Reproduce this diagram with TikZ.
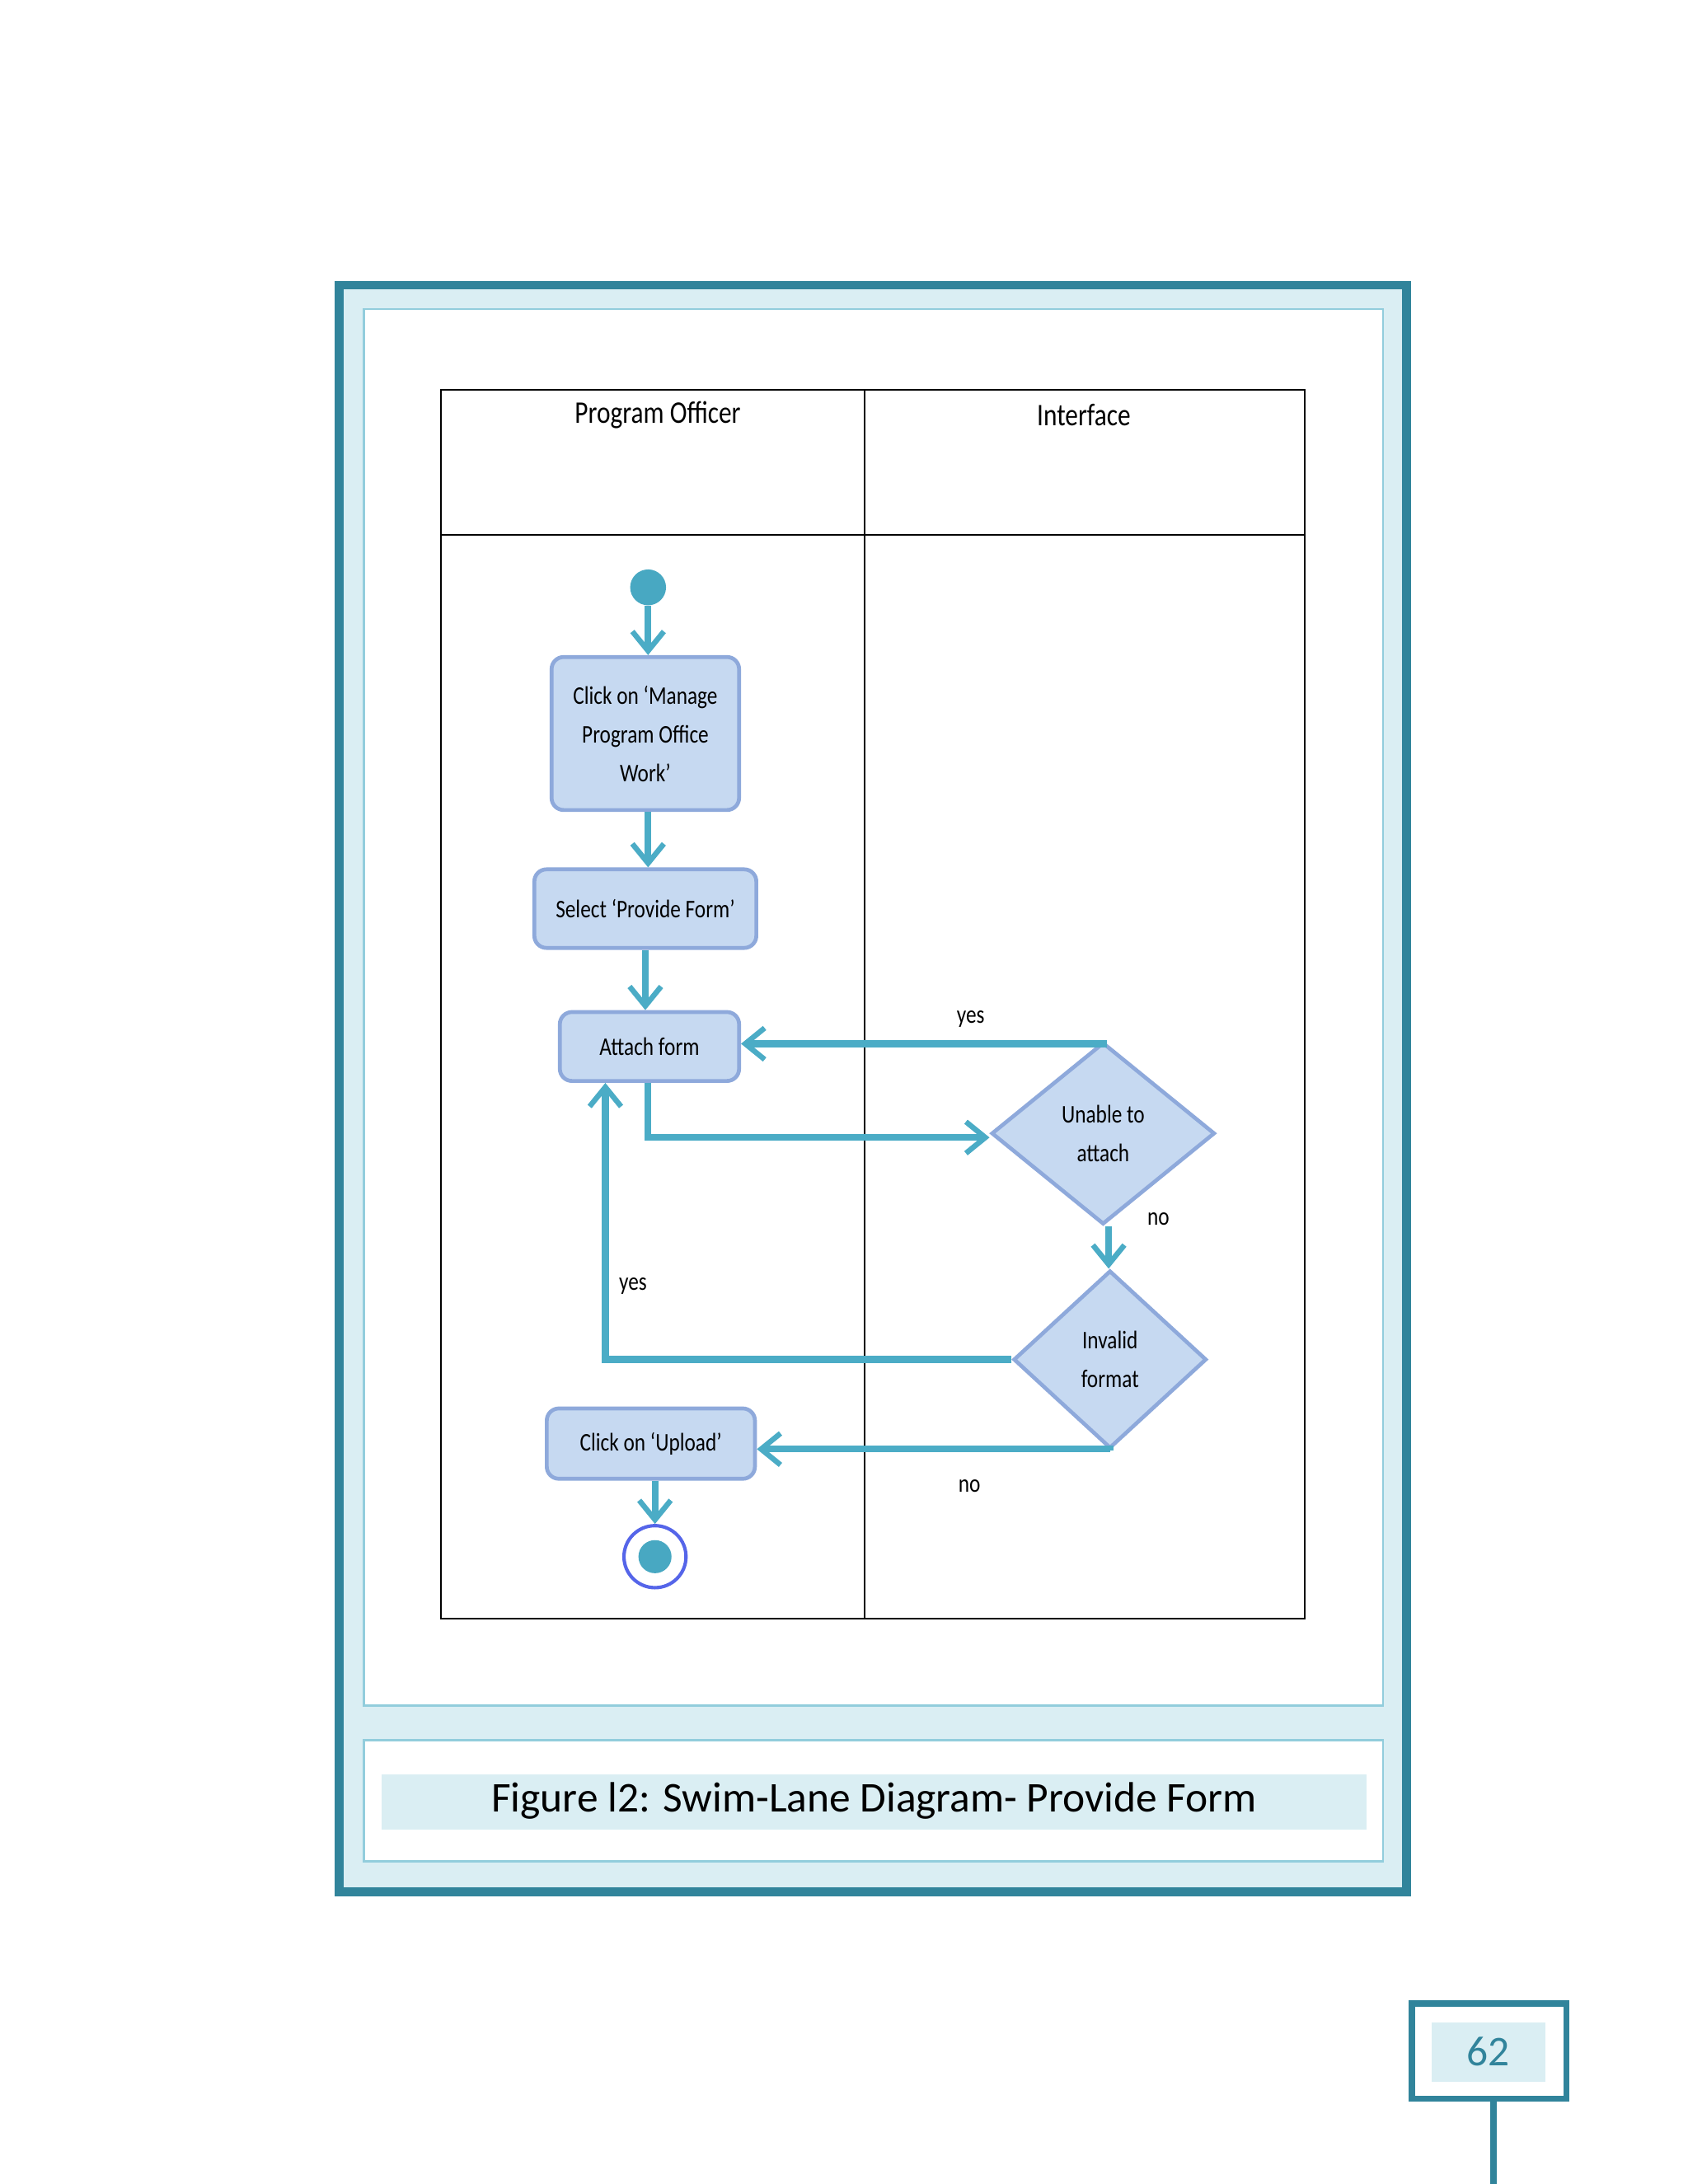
\documentclass[tikz,border=0pt]{standalone}
\usepackage{fontspec}
\setmainfont{Carlito}
\newfontfamily\narrowf[FakeStretch=0.82]{Carlito}
\usetikzlibrary{arrows.meta,shapes.geometric}
\definecolor{teal1}{HTML}{31849B}
\definecolor{lblue}{HTML}{DAEEF3}
\definecolor{lborder}{HTML}{92CDDC}
\definecolor{flow}{HTML}{4BACC6}
\definecolor{boxfill}{HTML}{C6D9F1}
\definecolor{boxdraw}{HTML}{8EA9DB}
\begin{document}
\begin{tikzpicture}[x=0.02cm,y=-0.02cm,
  act/.style={draw=boxdraw,line width=1.6pt,fill=boxfill,rounded corners=5pt,font=\narrowf\fontsize{10.5}{16}\selectfont,align=center,inner sep=0pt},
  dec/.style={draw=boxdraw,line width=1.6pt,fill=boxfill,diamond,font=\narrowf\fontsize{10.5}{16}\selectfont,align=center,inner sep=0pt},
  fl/.style={draw=flow,line width=2.8pt,-{Straight Barb[length=8pt,width=13pt,line width=2.2pt]}},
  lab/.style={font=\narrowf\fontsize{10.5}{12}\selectfont},
  hdr/.style={font=\narrowf\fontsize{13}{15}\selectfont}]
\useasboundingbox (0,0) rectangle (1224,1584);
% frame
\draw[teal1,line width=3.5pt,fill=lblue] (246,207) rectangle (1020,1372);
\draw[lborder,line width=0.8pt,fill=white] (264,224) rectangle (1003,1237);
\draw[lborder,line width=0.8pt,fill=white] (264,1262) rectangle (1003,1350);
\fill[lblue] (277,1287) rectangle (991,1327);
\node[font=\fontsize{17.5}{20}\selectfont] (cap) at (634,1306) {Figure l2: Swim-Lane Diagram- Provide Form};
% table
\draw[line width=0.7pt] (320,283) rectangle (946,1174);
\draw[line width=0.7pt] (627,283) -- (627,1174);
\draw[line width=0.7pt] (320,388) -- (946,388);
\node[hdr] (h1) at (477,301) {Program Officer};
\node[hdr] (h2) at (786,301) {Interface};
% nodes
\node[circle,fill=flow!90!teal1,minimum size=0.52cm,inner sep=0pt] (start) at (470,426) {};
\node[act,minimum width=2.72cm,minimum height=2.22cm] (b1) at (468,532) {Click on ‘Manage\\Program Office\\Work’};
\node[act,minimum width=3.22cm,minimum height=1.14cm] (b2) at (468,659) {Select ‘Provide Form’};
\node[act,minimum width=2.6cm,minimum height=1.0cm] (b3) at (471,759) {Attach form};
\node[dec,minimum width=3.24cm,minimum height=2.64cm] (d1) at (800,822) {Unable to\\attach};
\node[dec,minimum width=2.8cm,minimum height=2.58cm] (d2) at (805,986) {Invalid\\format};
\node[act,minimum width=3.02cm,minimum height=1.02cm] (b4) at (472,1047) {Click on ‘Upload’};
\node[circle,draw=boxdraw!60!blue,line width=1.4pt,fill=white,minimum size=0.9cm,inner sep=0pt] (end) at (475,1129) {};
\node[circle,fill=flow!90!teal1,minimum size=0.48cm,inner sep=0pt] (endi) at (end) {};
% flows
\draw[fl] (start) -- (b1.north -| start);
\draw[fl] (b1.south -| start) -- (b2.north -| start);
\draw[fl] (b2.south -| 468,0) -- (b3.north -| 468,0);
\draw[fl] (d1.north) -- (d1.north |- 0,757) -- (b3.east |- 0,757);
\draw[fl] (b3.south -| 470,0) -- (470,825) -- (d1.west |- 0,825);
\draw[fl] (d1.south -| 804,0) -- (d2.north -| 804,0);
\draw[fl] (d2.west) -- (439,986) -- (b3.south -| 439,0);
\draw[fl] (d2.south) -- (d2.south |- 0,1051) -- (b4.east |- 0,1051);
\draw[fl] (b4.south -| end) -- (end.north);
% labels
\node[lab] (y1) at (704,739) {yes};
\node[lab] (n1) at (840,884) {no};
\node[lab] (y2) at (459,933) {yes};
\node[lab] (n2) at (703,1078) {no};
% page number
\draw[teal1,line width=2.5pt] (1024,1453) rectangle (1136,1522);
\fill[lblue] (1038,1467) rectangle (1121,1510);
\node[teal1,font=\fontsize{17.5}{20}\selectfont] (pg) at (1079,1488) {62};
\draw[teal1,line width=2.5pt] (1083,1522) -- (1083,1584);
\end{tikzpicture}
\end{document}
